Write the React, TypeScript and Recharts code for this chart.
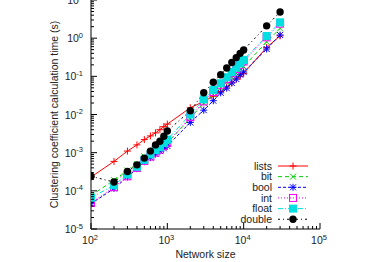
import React from 'react';
import { LineChart, Line, XAxis, YAxis, Legend, Label } from 'recharts';

// network sizes (x) and timings in seconds (y)
const sizes = [100, 200, 300, 400, 500, 600, 700, 800, 900, 1000, 2000, 3000, 4000, 5000, 6000, 7000, 8000, 9000, 10000, 20000, 30000];
const lists = [2.3e-4, 5.9e-4, 1.1e-3, 1.6e-3, 2.2e-3, 2.75e-3, 3.3e-3, 4.0e-3, 4.8e-3, 5.6e-3, 1.5e-2, 2.2e-2, 3.0e-2, 4.0e-2, 5.3e-2, 6.8e-2, 8.5e-2, 0.1, 0.12, 0.57, 1.15];
const bit = [7.5e-5, 1.9e-4, 3.4e-4, 5.0e-4, 8.0e-4, 9.0e-4, 1.1e-3, 1.3e-3, 1.55e-3, 1.8e-3, 8.0e-3, 2.0e-2, 3.3e-2, 5.0e-2, 7.0e-2, 9.3e-2, 0.12, 0.15, 0.18, 0.8, 1.8];
const bool = [4.6e-5, 1.15e-4, 2.3e-4, 3.8e-4, 5.8e-4, 7.4e-4, 9.2e-4, 1.1e-3, 1.3e-3, 1.5e-3, 6.2e-3, 1.3e-2, 2.3e-2, 3.7e-2, 4.9e-2, 6.7e-2, 8.5e-2, 0.11, 0.13, 0.52, 1.21];
const int = [4.8e-5, 1.25e-4, 2.4e-4, 4.0e-4, 6.1e-4, 7.9e-4, 1.0e-3, 1.2e-3, 1.5e-3, 1.8e-3, 8.5e-3, 2.2e-2, 3.9e-2, 6.0e-2, 8.6e-2, 0.12, 0.155, 0.2, 0.245, 1.05, 2.4];
const float = [6.6e-5, 1.4e-4, 2.7e-4, 4.3e-4, 6.5e-4, 9.0e-4, 1.17e-3, 1.4e-3, 1.8e-3, 2.2e-3, 1.0e-2, 2.5e-2, 4.4e-2, 6.6e-2, 9.5e-2, 0.13, 0.17, 0.22, 0.27, 1.14, 2.6];
const double = [2.4e-4, 1.7e-4, 3.2e-4, 4.8e-4, 7.2e-4, 1.1e-3, 1.6e-3, 2.0e-3, 2.7e-3, 3.7e-3, 1.25e-2, 3.7e-2, 7.0e-2, 0.11, 0.166, 0.23, 0.31, 0.4, 0.49, 2.1, 4.85];

// decades shown on the axes (10^n)
const xDecades = [2, 3, 4, 5];
const yDecades = [-5, -4, -3, -2, -1, 0, 1];

const data = sizes.map((n, i) => ({
  n,
  lists: lists[i],
  bit: bit[i],
  bool: bool[i],
  int: int[i],
  float: float[i],
  double: double[i],
}));

const series = [
  { key: 'lists', color: '#ff0000', dash: undefined, marker: 'plus' },
  { key: 'bit', color: '#00d000', dash: '4 3', marker: 'cross' },
  { key: 'bool', color: '#0000ff', dash: '3 2', marker: 'star' },
  { key: 'int', color: '#ff00ff', dash: '1 2', marker: 'box' },
  { key: 'float', color: '#00e0e0', dash: '5 2 1 2', marker: 'fbox' },
  { key: 'double', color: '#000000', dash: '2 3 1 3', marker: 'circle' },
];

const FONT = '"Liberation Sans", Arial, Helvetica, sans-serif';
const TXT = '#222';

const logTicks = (decades: number[]) => {
  const out: number[] = [];
  decades.forEach((d, i) => {
    const base = Math.pow(10, d);
    out.push(base);
    if (i < decades.length - 1) for (let m = 2; m <= 9; m++) out.push(m * base);
  });
  return out;
};
const xTicks = logTicks(xDecades);
const yTicks = logTicks(yDecades);

const expOf = (v: number) => Math.round(Math.log10(v));
const isMajor = (v: number) => Math.abs(Math.log10(v) - expOf(v)) < 1e-6;

const Pow = ({ x, y, e, anchor }: { x: number; y: number; e: number; anchor: string }) => (
  <text x={x} y={y} textAnchor={anchor} fontFamily={FONT} fontSize={10.5} fill={TXT}>
    10<tspan dy={-4.5} fontSize={7.5}>{e}</tspan>
  </text>
);

const BottomTick = ({ x, y, payload }: any) => {
  const major = isMajor(payload.value);
  return (
    <g>
      <line x1={x} y1={y} x2={x} y2={y - (major ? 6 : 3)} stroke="#000" />
      {major && <Pow x={x - 1} y={y + 15} e={expOf(payload.value)} anchor="middle" />}
    </g>
  );
};
const TopTick = ({ x, y, payload }: any) => (
  <line x1={x} y1={y} x2={x} y2={y + (isMajor(payload.value) ? 6 : 3)} stroke="#000" />
);
const LeftTick = ({ x, y, payload }: any) => {
  const major = isMajor(payload.value);
  return (
    <g>
      <line x1={x} y1={y} x2={x + (major ? 6 : 3)} y2={y} stroke="#000" />
      {major && <Pow x={x - 8} y={y + 4} e={expOf(payload.value)} anchor="end" />}
    </g>
  );
};
const RightTick = ({ x, y, payload }: any) => (
  <line x1={x} y1={y} x2={x - (isMajor(payload.value) ? 6 : 3)} y2={y} stroke="#000" />
);

const Marker = ({ kind, cx, cy, color }: { kind: string; cx: number; cy: number; color: string }) => {
  const s = 3.5;
  const d = 3;
  const plus = (
    <>
      <line x1={cx - s} y1={cy} x2={cx + s} y2={cy} />
      <line x1={cx} y1={cy - s} x2={cx} y2={cy + s} />
    </>
  );
  const cross = (
    <>
      <line x1={cx - d} y1={cy - d} x2={cx + d} y2={cy + d} />
      <line x1={cx - d} y1={cy + d} x2={cx + d} y2={cy - d} />
    </>
  );
  if (kind === 'plus') return <g stroke={color}>{plus}</g>;
  if (kind === 'cross') return <g stroke={color}>{cross}</g>;
  if (kind === 'star') return <g stroke={color}>{plus}{cross}</g>;
  if (kind === 'box') return <rect x={cx - 3.5} y={cy - 3.5} width={7} height={7} fill="none" stroke={color} />;
  if (kind === 'fbox') return <rect x={cx - 4} y={cy - 4} width={8} height={8} fill={color} />;
  return <circle cx={cx} cy={cy} r={3.7} fill={color} />;
};

const LegendBox = () => (
  <svg width={110} height={70} style={{ display: 'block', overflow: 'visible' }}>
    {series.map((s, i) => {
      const y = 6 + i * 10.65;
      return (
        <g key={s.key}>
          <text x={42} y={y + 3.8} textAnchor="end" fontFamily={FONT} fontSize={10.5} fill={TXT}>
            {s.key}
          </text>
          <line x1={48} y1={y} x2={78} y2={y} stroke={s.color} strokeDasharray={s.dash} />
          <Marker kind={s.marker} cx={63} cy={y} color={s.color} />
        </g>
      );
    })}
  </svg>
);

const YTitle = ({ viewBox }: any) => {
  const cx = viewBox.x + 58;
  const cy = viewBox.y + viewBox.height / 2;
  return (
    <text x={cx} y={cy} transform={`rotate(-90 ${cx} ${cy})`} textAnchor="middle" fontFamily={FONT} fontSize={10.5} fill={TXT}>
      Clustering coefficient calculation time (s)
    </text>
  );
};

export default function App() {
  return (
    <div style={{ position: 'absolute', left: 0, top: 0, background: '#fff' }}>
      <LineChart width={374} height={262} data={data} margin={{ top: 0, right: 54, bottom: 0, left: 0 }}>
        <XAxis
          xAxisId="bottom"
          dataKey="n"
          type="number"
          scale="log"
          domain={[100, 100000]}
          allowDataOverflow
          ticks={xTicks}
          interval={0}
          tickSize={0}
          tickMargin={0}
          tickLine={false}
          tick={BottomTick}
          height={33}
          axisLine={{ stroke: '#000' }}
        >
          <Label value="Network size" position="insideBottom" offset={4} fontFamily={FONT} fontSize={10.5} fill={TXT} />
        </XAxis>
        <XAxis
          xAxisId="top"
          orientation="top"
          dataKey="n"
          type="number"
          scale="log"
          domain={[100, 100000]}
          allowDataOverflow
          ticks={xTicks}
          interval={0}
          tickSize={0}
          tickMargin={0}
          tickLine={false}
          tick={TopTick}
          height={0}
          axisLine={{ stroke: '#000' }}
        />
        <YAxis
          yAxisId="left"
          type="number"
          scale="log"
          domain={[1e-5, 10]}
          allowDataOverflow
          ticks={yTicks}
          interval={0}
          tickSize={0}
          tickMargin={0}
          tickLine={false}
          tick={LeftTick}
          width={91}
          axisLine={{ stroke: '#000' }}
        >
          <Label content={YTitle} />
        </YAxis>
        <YAxis
          yAxisId="right"
          orientation="right"
          type="number"
          scale="log"
          domain={[1e-5, 10]}
          allowDataOverflow
          ticks={yTicks}
          interval={0}
          tickSize={0}
          tickMargin={0}
          tickLine={false}
          tick={RightTick}
          width={0}
          axisLine={{ stroke: '#000' }}
        />
        {series.map((s) => (
          <Line
            key={s.key}
            xAxisId="bottom"
            yAxisId="left"
            dataKey={s.key}
            type="linear"
            stroke={s.color}
            strokeWidth={1}
            strokeDasharray={s.dash}
            isAnimationActive={false}
            activeDot={false}
            dot={(p: any) => <Marker key={`${s.key}-${p.index}`} kind={s.marker} cx={p.cx} cy={p.cy} color={s.color} />}
          />
        ))}
        <Legend
          layout="vertical"
          align="center"
          verticalAlign="middle"
          wrapperStyle={{ left: 230, top: 160, width: 110, height: 70 }}
          content={() => <LegendBox />}
        />
      </LineChart>
    </div>
  );
}
